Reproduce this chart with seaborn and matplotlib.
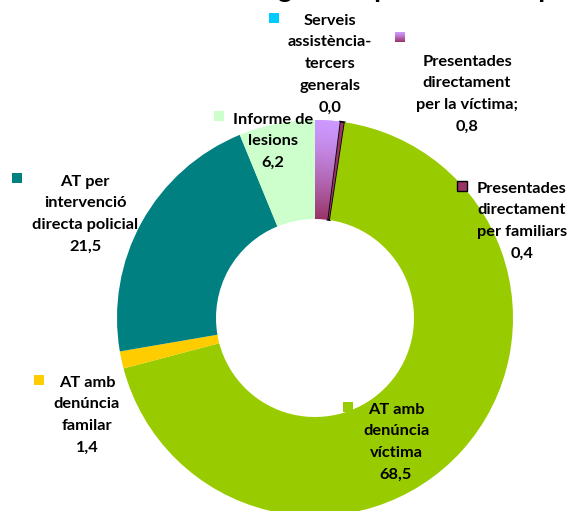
import matplotlib.pyplot as plt
import matplotlib.colors as mcolors
from matplotlib.patches import Rectangle
import numpy as np
import seaborn as sns

# clockwise from 12 o'clock
categories = ['Presentades directament per la víctima',
              'Presentades directament per familiars',
              'AT amb denúncia víctima',
              'AT amb denúncia familar',
              'AT per intervenció directa policial',
              'Informe de lesions',
              'Serveis assistència-tercers generals']
shares = [2.0, 0.4, 68.5, 1.4, 21.5, 6.2, 0.0]  # wedge sizes as drawn
label_values = ['0,8', '0,4', '68,5', '1,4', '21,5', '6,2', '0,0']
label_lines = [['Presentades', 'directament', 'per la víctima;'],
               ['Presentades', 'directament', 'per familiars'],
               ['AT amb', 'denúncia', 'víctima'],
               ['AT amb', 'denúncia', 'familar'],
               ['AT per', 'intervenció', 'directa policial'],
               ['Informe de', 'lesions'],
               ['Serveis', 'assistència-', 'tercers', 'generals']]
colors = ['#CC99FF', '#993366', '#99CC00', '#FFCC00', '#008080', '#CCFFCC', '#00CCFF']
title = 'Origen del procediment per tipus'

# layout, in pixels from the top-left corner
W, H = 571, 511
cx, cy, R, r_in = 315, 318, 198, 99
text_pos = [(467, 60), (522, 187), (396, 408), (87, 381), (85, 180), (273, 118), (330, 19)]
key_pos = [(400, 37), (462, 186), (348, 407), (39, 380), (17, 178), (219, 116), (274, 18)]
line_gap = 21.7

sns.set_theme(style='white')
plt.rcParams['font.family'] = ['Lato', 'DejaVu Sans']

fig = plt.figure(figsize=(W / 100, H / 100), dpi=100)
ax = fig.add_axes([0, 0, 1, 1])
ax.axis('off')


def fy(y):
    return H - y


wedges, _ = ax.pie(shares, colors=colors, startangle=90, counterclock=False,
                   center=(cx, fy(cy)), radius=R, normalize=True,
                   wedgeprops=dict(width=R - r_in, linewidth=0))

# black outline on the thin familiars wedge
wedges[1].set_edgecolor('black')
wedges[1].set_linewidth(1.2)

# radial shading on the víctima wedge
light = np.array(mcolors.to_rgb('#CC99FF'))
dark = np.array(mcolors.to_rgb('#993366'))
xs = np.linspace(300, 360, 120)
ys = np.linspace(fy(230), fy(110), 240)
X, Y = np.meshgrid(xs, ys)
t = np.clip((R - np.hypot(X - cx, Y - fy(cy))) / (R - r_in), 0, 1) ** 1.4
img = light * (1 - t[..., None]) + dark * t[..., None]
im = ax.imshow(img, extent=(xs[0], xs[-1], ys[0], ys[-1]), origin='lower',
               zorder=wedges[0].get_zorder() + 0.1, aspect='auto')
im.set_clip_path(wedges[0])

# labels with legend keys
font = dict(fontsize=11.8, fontweight='bold', color='black')
for i, lines in enumerate(label_lines):
    tx, ty = text_pos[i]
    for j, line in enumerate(lines + [label_values[i]]):
        ax.text(tx, fy(ty + j * line_gap + 5.5), line, ha='center', va='baseline', **font)
    kx, ky = key_pos[i]
    if i == 0:
        g = np.linspace(0, 1, 20)[:, None, None] ** 1.2
        key = light * (1 - g) + dark * g
        ax.imshow(np.repeat(key, 2, axis=1), extent=(kx - 5, kx + 5, fy(ky + 5), fy(ky - 5)),
                  origin='upper', aspect='auto', zorder=3)
    else:
        ax.add_patch(Rectangle((kx - 5, fy(ky + 5)), 10, 10, facecolor=colors[i],
                               edgecolor='black' if i == 1 else 'none',
                               linewidth=1.0, zorder=3))

# title, mostly cut off by the top edge
ax.text(238, fy(-3), title, ha='left', va='baseline', fontsize=20, fontweight='bold',
        color='black', clip_on=False)

ax.set_xlim(0, W)
ax.set_ylim(0, H)
ax.set_aspect('auto')

fig.savefig('out.png', dpi=100)
